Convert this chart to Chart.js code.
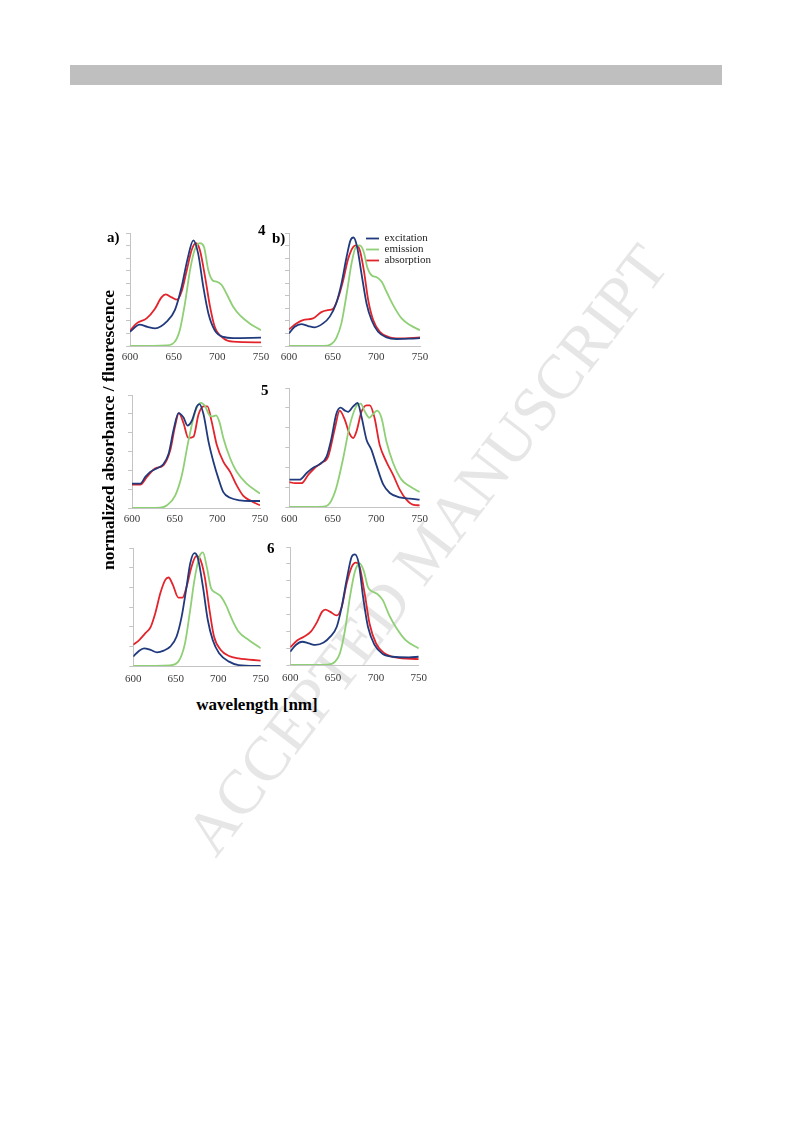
<!DOCTYPE html>
<html>
<head>
<meta charset="utf-8">
<script src="https://cdn.jsdelivr.net/npm/chart.js@4.4.0/dist/chart.umd.min.js"></script>
<style>
  body { margin: 0; background: #fff; }
  #page { position: relative; width: 793px; height: 1123px; overflow: hidden; }
  .barra { position: absolute; left: 70px; top: 65px; width: 652px; height: 20px; background: #bfbfbf; }
  .marca { position: absolute; left: 427px; top: 550px; transform: translate(-50%, -50%) rotate(-52.5deg);
           font-family: "Liberation Serif", serif; font-size: 63px; color: #e6e6e6; white-space: nowrap; }
  canvas { position: absolute; }
  .txt { position: absolute; font-family: "Liberation Serif", serif; font-weight: bold; color: #000; white-space: nowrap; }
</style>
</head>
<body>
<div id="page">
  <div class="barra"></div>
  <div class="marca">ACCEPTED MANUSCRIPT</div>

  <canvas id="g_a"></canvas>
  <canvas id="g_b"></canvas>
  <canvas id="g_c"></canvas>
  <canvas id="g_d"></canvas>
  <canvas id="g_e"></canvas>
  <canvas id="g_f"></canvas>

  <div class="txt" style="left:107px; top:229px; font-size:15px;">a)</div>
  <div class="txt" style="left:258px; top:222px; font-size:15px;">4</div>
  <div class="txt" style="left:272px; top:230px; font-size:15px;">b)</div>
  <div class="txt" style="left:261px; top:382px; font-size:15px;">5</div>
  <div class="txt" style="left:267px; top:540px; font-size:15px;">6</div>
  <div class="txt" style="left:257px; top:705px; font-size:17px; transform:translate(-50%,-50%);">wavelength [nm]</div>
  <div class="txt" style="left:108px; top:430px; font-size:17.5px; transform:translate(-50%,-50%) rotate(-90deg);">normalized absorbance / fluorescence</div>
</div>

<script>
// valores: [comprimento de onda (nm), intensidade normalizada]
const x_ticks = [600, 650, 700, 750];
const nomes_series = ["excitation", "emission", "absorption"];

// painel a) - composto 4
const a_excitation = [[600,0.126],[611,0.19],[620,0.17],[629,0.156],[642,0.215],[651.5,0.32],[659,0.52],[665.6,0.76],[672.5,0.935],[678,0.82],[684,0.52],[689.7,0.29],[697,0.14],[707,0.08],[718,0.07],[750,0.074]];
const a_emission = [[600,0],[642,0.006],[651.5,0.04],[657,0.14],[663,0.38],[668.7,0.67],[674,0.85],[680,0.91],[684.6,0.88],[689.7,0.67],[694.7,0.58],[699,0.57],[705,0.54],[710.7,0.46],[718,0.35],[726,0.27],[737,0.2],[750,0.14]];
const a_absorption = [[600,0.135],[607.6,0.2],[619,0.244],[628.6,0.33],[636,0.43],[641,0.456],[647.7,0.43],[654,0.41],[659,0.48],[665,0.67],[670.6,0.85],[675.6,0.91],[680,0.85],[686,0.61],[691.6,0.35],[697,0.17],[707,0.068],[718,0.038],[750,0.032]];

// painel b) - composto 4
const b_excitation = [[600,0.112],[606.5,0.17],[614,0.194],[622,0.176],[629.5,0.165],[639,0.2],[646.7,0.26],[654,0.376],[660,0.55],[666,0.79],[670.4,0.935],[674,0.96],[678,0.876],[683,0.64],[688.8,0.376],[694.5,0.23],[702,0.126],[711.7,0.076],[723,0.062],[738.5,0.065],[750,0.07]];
const b_emission = [[600,0],[639,0],[648.6,0.018],[654,0.068],[660,0.2],[666,0.46],[671.6,0.73],[676.5,0.876],[681,0.89],[685.7,0.83],[689.5,0.7],[694.5,0.626],[700,0.61],[706,0.57],[711.7,0.48],[719.4,0.36],[729,0.244],[738.5,0.185],[750,0.14]];
const b_absorption = [[600,0.147],[608.4,0.2],[616,0.23],[627.5,0.244],[637,0.3],[644.8,0.318],[650.5,0.33],[656,0.42],[662,0.58],[667.7,0.77],[673.5,0.876],[677,0.89],[681,0.85],[685.7,0.67],[690.7,0.406],[696.4,0.23],[704,0.126],[713.6,0.082],[727,0.068],[750,0.076]];

// painel c) - composto 5
const c_excitation = [[600,0.216],[609.7,0.216],[615.6,0.275],[621.4,0.32],[629,0.35],[637,0.39],[642.9,0.48],[648.7,0.69],[654.5,0.84],[660.4,0.8],[665,0.73],[670,0.77],[676,0.9],[679,0.92],[683.8,0.83],[689.6,0.59],[695.4,0.41],[701.3,0.26],[707,0.14],[715,0.09],[726.6,0.068],[738,0.062],[750,0.062]];
const c_emission = [[600,0],[633,0.003],[641,0.024],[650.6,0.11],[658.4,0.29],[666,0.59],[674,0.85],[680.6,0.93],[685.7,0.9],[690.8,0.82],[694.7,0.81],[698.6,0.82],[702.5,0.76],[707,0.62],[715,0.44],[722.7,0.32],[734.4,0.216],[750,0.127]];
const c_absorption = [[600,0.207],[609.7,0.207],[617.5,0.275],[627,0.35],[637,0.38],[644.8,0.51],[650.6,0.73],[654.9,0.84],[660.4,0.75],[666,0.62],[672,0.63],[678,0.83],[683.8,0.9],[688.4,0.9],[693.5,0.76],[699.3,0.56],[707,0.41],[715,0.32],[722.7,0.2],[730.5,0.107],[740,0.06],[750,0.024]];

// painel d) - composto 5
const d_excitation = [[600,0.23],[612,0.23],[620,0.286],[627.5,0.33],[635,0.36],[643,0.426],[648.6,0.58],[654,0.78],[659,0.835],[664,0.81],[667.7,0.8],[673.5,0.846],[678.5,0.874],[683,0.76],[688.8,0.566],[694.5,0.48],[700,0.356],[708,0.19],[715.6,0.118],[727,0.08],[738.5,0.07],[750,0.062]];
const d_emission = [[600,0],[639,0.003],[646.7,0.034],[654,0.16],[662,0.41],[669.7,0.69],[677,0.846],[682,0.868],[687,0.8],[692,0.75],[696.4,0.78],[701,0.81],[706,0.75],[711.7,0.55],[719.4,0.37],[729,0.23],[738.5,0.174],[750,0.126]];
const d_absorption = [[600,0.21],[606.5,0.2],[614,0.2],[621.8,0.27],[629.5,0.33],[637,0.37],[644.8,0.426],[652.4,0.66],[658,0.81],[664,0.73],[669,0.62],[673.5,0.58],[677.3,0.636],[683,0.8],[688.8,0.854],[692.6,0.854],[698,0.75],[704,0.52],[711.7,0.38],[719.4,0.27],[727,0.146],[734.7,0.062],[742,0.02],[750,0.014]];

// painel e) - composto 6
const e_excitation = [[600,0.08],[607,0.13],[612.7,0.15],[620.4,0.136],[628,0.116],[635.8,0.13],[643.5,0.164],[651,0.25],[657,0.42],[662.7,0.67],[667,0.87],[672,0.956],[676,0.915],[682,0.67],[687.7,0.39],[693.5,0.22],[701,0.108],[712.7,0.037],[724,0.008],[750,0]];
const e_emission = [[600,0],[643.5,0.006],[653,0.037],[660.8,0.19],[666.5,0.45],[672,0.73],[678,0.93],[682,0.963],[686.5,0.84],[691.5,0.66],[697.3,0.62],[703,0.59],[708.8,0.52],[716.5,0.39],[724,0.29],[735.8,0.22],[750,0.15]];
const e_absorption = [[600,0.18],[607,0.22],[614.6,0.28],[620.4,0.33],[626,0.45],[632,0.62],[637.7,0.73],[641.5,0.75],[646.5,0.69],[653,0.58],[658,0.58],[662.7,0.67],[668.5,0.84],[674,0.93],[678,0.915],[684,0.76],[689.6,0.48],[695,0.25],[703,0.136],[712.7,0.085],[724,0.065],[750,0.045]];

// painel f) - composto 6
const f_excitation = [[600,0.113],[606.5,0.17],[614,0.197],[621.8,0.183],[629.5,0.17],[639,0.19],[646.7,0.24],[654.3,0.324],[660,0.49],[665.8,0.72],[671.6,0.915],[675.4,0.938],[680,0.86],[685,0.577],[690.7,0.324],[698.4,0.17],[708,0.093],[719.4,0.07],[738.5,0.065],[750,0.07]];
const f_emission = [[600,0],[643,0.003],[652.4,0.028],[658,0.1],[664,0.3],[669.7,0.577],[675.4,0.79],[681,0.86],[685.7,0.8],[690.7,0.66],[696.4,0.62],[702,0.6],[708,0.55],[715.6,0.42],[723,0.324],[734.7,0.21],[750,0.14]];
const f_absorption = [[600,0.15],[608.4,0.21],[616,0.24],[623.7,0.28],[631.4,0.366],[637,0.45],[641,0.47],[646.7,0.45],[654.3,0.42],[660,0.49],[665.8,0.69],[671.6,0.83],[676.5,0.868],[681,0.83],[687,0.6],[692.6,0.35],[700.3,0.18],[709.8,0.1],[723,0.065],[750,0.05]];

const cores = ["#213a7d", "#8fcf76", "#e3242b"];

// área do gráfico de cada painel na página: esquerda, topo, direita, base, nº de divisões do eixo y
const paineis = [
    { id: "g_a", area: [130, 233, 261, 346], div: 9, series: [a_excitation, a_emission, a_absorption], legenda: false, pad: 5 },
    { id: "g_b", area: [289, 233, 420, 346], div: 9, series: [b_excitation, b_emission, b_absorption], legenda: true, pad: 5 },
    { id: "g_c", area: [132, 395, 260, 508], div: 6, series: [c_excitation, c_emission, c_absorption], legenda: false, pad: 5 },
    { id: "g_d", area: [289, 388, 420, 507], div: 6, series: [d_excitation, d_emission, d_absorption], legenda: false, pad: 6 },
    { id: "g_e", area: [132, 548, 262, 666], div: 6, series: [e_excitation, e_emission, e_absorption], legenda: false, pad: 7 },
    { id: "g_f", area: [289, 547, 420, 665], div: 7, series: [f_excitation, f_emission, f_absorption], legenda: false, pad: 7 },
];

const esq = 14, topo = 6, dir = 14, base = 24;

// legenda do painel b) fica no canto de cima à direita, por cima das curvas
const legenda_canto = {
    id: "legenda_canto",
    beforeDraw(chart) {
        const lg = chart.legend;
        if (!lg || !lg.options.display) return;
        const w = lg.right - lg.left;
        lg.left = chart.chartArea.right - 54;
        lg.right = lg.left + w;
        const h = lg.bottom - lg.top;
        lg.top = chart.chartArea.top;
        lg.bottom = lg.top + h;
    },
};

paineis.forEach((p) => {
    const [L, T, R, B] = p.area;
    const canvas = document.getElementById(p.id);
    canvas.width = R - L + esq + dir;
    canvas.height = B - T + topo + base;
    canvas.style.left = (L - esq) + "px";
    canvas.style.top = (T - topo) + "px";

    new Chart(canvas, {
        type: "line",
        data: {
            datasets: p.series.map((s, i) => ({
                label: nomes_series[i],
                data: s.map((pt) => ({ x: pt[0], y: pt[1] })),
                borderColor: cores[i],
                backgroundColor: cores[i],
                borderWidth: 1.8,
                pointRadius: 0,
                fill: false,
                cubicInterpolationMode: "monotone",
            })),
        },
        plugins: [legenda_canto],
        options: {
            responsive: false,
            animation: false,
            layout: { padding: { left: 0, top: topo, right: dir, bottom: 0 } },
            plugins: {
                legend: {
                    display: p.legenda,
                    position: "chartArea",
                    align: "start",
                    labels: {
                        usePointStyle: true,
                        pointStyle: "line",
                        pointStyleWidth: 13,
                        boxWidth: 13,
                        boxHeight: 8,
                        padding: 0,
                        color: "#222",
                        font: { family: "Liberation Serif", size: 11 },
                    },
                },
                tooltip: { enabled: false },
            },
            scales: {
                x: {
                    type: "linear",
                    min: 600,
                    max: 750,
                    afterFit: (scale) => { scale.height = base; },
                    afterBuildTicks: (scale) => { scale.ticks = x_ticks.map((v) => ({ value: v })); },
                    grid: { display: false, drawTicks: false },
                    border: { color: "#c4c4c4", width: 1 },
                    ticks: {
                        padding: p.pad,
                        maxRotation: 0,
                        autoSkip: false,
                        color: "#3a3a3a",
                        font: { family: "Liberation Serif", size: 11 },
                    },
                },
                y: {
                    min: 0,
                    max: 1,
                    afterFit: (scale) => { scale.width = esq; },
                    grid: { drawOnChartArea: false, drawTicks: true, tickLength: 4, color: "#c4c4c4" },
                    border: { color: "#c4c4c4", width: 1 },
                    ticks: { display: false, count: p.div + 1 },
                },
            },
        },
    });
});
</script>
</body>
</html>
